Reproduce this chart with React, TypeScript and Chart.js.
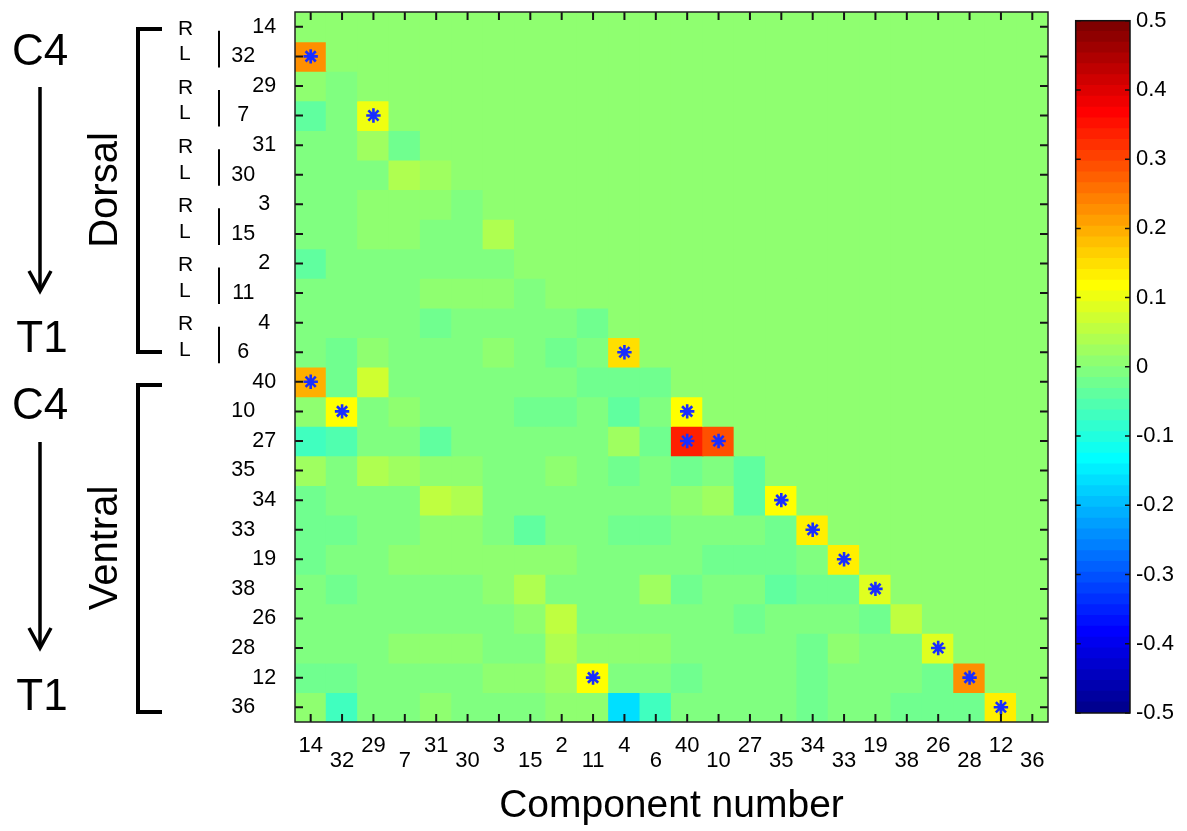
import React, { useEffect, useRef } from 'react';
import { Chart, registerables } from 'chart.js';

Chart.register(...registerables);

// ---------- data ----------
const componentLabels = ['14', '32', '29', '7', '31', '30', '3', '15', '2', '11', '4', '6', '40', '10', '27', '35', '34', '33', '19', '38', '26', '28', '12', '36'];

// lower-triangle correlation values, row r holds columns 0..r-1
const lowerTriangle: number[][] = [
  [],
  [0.22],
  [0.01, -0.01],
  [-0.04, -0.01, 0.10],
  [-0.01, -0.01, 0.02, -0.02],
  [-0.01, -0.01, -0.01, 0.04, 0.02],
  [-0.01, -0.01, 0.01, 0.01, 0.01, -0.01],
  [-0.01, -0.01, 0.01, 0.01, -0.01, -0.01, 0.04],
  [-0.04, -0.01, -0.01, -0.01, -0.01, -0.01, -0.01, 0.01],
  [-0.01, -0.01, -0.01, -0.01, 0.01, 0.01, 0.01, -0.01, 0.01],
  [-0.01, -0.01, -0.01, -0.01, -0.02, -0.01, -0.01, -0.01, -0.01, -0.02],
  [-0.01, -0.02, 0.01, -0.01, -0.01, -0.01, 0.01, -0.01, -0.02, -0.01, 0.15],
  [0.195, -0.02, 0.07, -0.01, -0.01, -0.01, -0.01, -0.01, -0.01, -0.02, -0.02, -0.02],
  [0.01, 0.115, -0.01, 0.01, -0.01, -0.01, -0.01, -0.02, -0.02, -0.01, -0.04, -0.01, 0.115],
  [-0.07, -0.055, -0.01, -0.01, -0.04, -0.01, -0.01, -0.01, -0.01, -0.01, 0.02, -0.02, 0.33, 0.29],
  [0.02, -0.01, 0.04, 0.02, 0.01, 0.01, -0.01, -0.01, 0.01, -0.01, -0.02, -0.01, -0.03, -0.01, -0.04],
  [-0.02, -0.01, -0.01, -0.01, 0.055, 0.04, -0.01, -0.01, -0.01, -0.01, -0.01, -0.01, 0.01, 0.02, -0.04, 0.115],
  [-0.02, -0.02, -0.01, -0.01, 0.01, 0.01, -0.01, -0.04, -0.01, -0.01, -0.02, -0.02, -0.01, -0.01, -0.01, -0.02, 0.125],
  [-0.02, -0.01, -0.01, 0.01, 0.01, 0.01, 0.01, 0.01, 0.01, -0.01, -0.01, -0.01, -0.01, -0.02, -0.02, -0.02, -0.01, 0.125],
  [-0.01, -0.02, -0.01, -0.01, -0.01, -0.01, 0.01, 0.04, -0.01, -0.01, -0.01, 0.02, -0.02, -0.01, -0.01, -0.04, -0.02, -0.02, 0.08],
  [-0.01, -0.01, -0.01, -0.01, -0.01, -0.01, -0.01, 0.01, 0.055, -0.01, -0.01, -0.01, -0.01, -0.01, -0.02, -0.01, -0.01, -0.01, -0.02, 0.05],
  [-0.01, -0.01, -0.01, 0.01, 0.01, 0.01, -0.01, -0.01, 0.04, 0.01, 0.01, 0.01, -0.01, -0.01, -0.01, -0.01, -0.02, 0.01, -0.01, -0.01, 0.08],
  [-0.02, -0.02, -0.01, -0.01, -0.01, -0.01, 0.01, 0.01, 0.02, 0.115, -0.01, -0.01, -0.03, -0.01, -0.01, -0.01, -0.02, -0.01, -0.01, -0.01, -0.02, 0.22],
  [0.01, -0.07, -0.01, -0.01, 0.01, -0.01, -0.01, -0.01, 0.01, 0.01, -0.165, -0.07, -0.01, -0.01, -0.01, -0.01, -0.02, -0.01, -0.01, -0.02, -0.02, -0.03, 0.13],
];

// significant cells [row, column]
const starCells: [number, number][] = [
  [1, 0], [3, 2], [11, 10], [12, 0], [13, 1], [13, 12], [14, 12], [14, 13],
  [16, 15], [17, 16], [18, 17], [19, 18], [21, 20], [22, 9], [22, 21], [23, 22],
];

const colorMin = -0.5;
const colorMax = 0.5;
const colorLevels = 64;
const colorbarStep = 0.1;

// ---------- helpers ----------
function jetColor(v: number): string {
  const t = (v - colorMin) / (colorMax - colorMin);
  const i = Math.min(colorLevels - 1, Math.max(0, Math.floor(t * colorLevels + 1e-9))) + 1;
  const u = (k: number) => (k < 1 || k > 47 ? 0 : k <= 16 ? k / 16 : k <= 31 ? 1 : (48 - k) / 16);
  const r = Math.round(255 * u(i - 24));
  const g = Math.round(255 * u(i - 8));
  const b = Math.round(255 * u(i + 8));
  return `rgb(${r},${g},${b})`;
}

const FONT = "'Liberation Sans', Arial, Helvetica, sans-serif";
const W = 1187;
const H = 831;
const ODD_PAD = '       '; // shifts odd row labels to the left (staggered labels)

const matrix: number[][] = componentLabels.map((_, r) =>
  componentLabels.map((__, c) => (c < r ? lowerTriangle[r][c] ?? 0 : 0))
);

const rowTicks = (axis: any) => {
  axis.ticks = componentLabels.map((_, i) => ({ value: i + 0.5 }));
};

const boxPlugin = {
  id: 'boxTicks',
  afterDraw(chart: any) {
    const { ctx, chartArea } = chart;
    const { left, right, top, bottom } = chartArea;
    const xs = chart.scales.x;
    const ys = chart.scales.y;
    ctx.save();
    ctx.strokeStyle = '#151515';
    ctx.lineWidth = 2;
    const tl = 8;
    componentLabels.forEach((_, i) => {
      const px = xs.getPixelForValue(i);
      const py = ys.getPixelForValue(i + 0.5);
      ctx.beginPath();
      ctx.moveTo(px, bottom); ctx.lineTo(px, bottom - tl);
      ctx.moveTo(px, top); ctx.lineTo(px, top + tl);
      ctx.moveTo(left, py); ctx.lineTo(left + tl, py);
      ctx.moveTo(right, py); ctx.lineTo(right - tl, py);
      ctx.stroke();
    });
    ctx.lineWidth = 1.5;
    ctx.strokeStyle = '#222';
    ctx.strokeRect(left, top, right - left, bottom - top);
    ctx.restore();
  },
};

const sidePlugin = {
  id: 'sideLabels',
  afterDraw(chart: any) {
    const ctx = chart.ctx as CanvasRenderingContext2D;
    const ys = chart.scales.y;
    const rowPx = (r: number) => ys.getPixelForValue(r + 0.5);
    ctx.save();
    ctx.fillStyle = '#000';
    ctx.strokeStyle = '#000';

    const sections = [
      { name: 'Dorsal', top: 29, bottom: 352, c4: 65, t1: 352, aTop: 87, aTip: 293, mid: 190 },
      { name: 'Ventral', top: 385, bottom: 712, c4: 419, t1: 710, aTop: 442, aTip: 650, mid: 548 },
    ];
    sections.forEach((s) => {
      ctx.font = `44px ${FONT}`;
      ctx.textAlign = 'center';
      ctx.textBaseline = 'alphabetic';
      ctx.fillText('C4', 40, s.c4);
      ctx.fillText('T1', 42, s.t1);
      ctx.lineWidth = 3.5;
      ctx.lineCap = 'butt';
      ctx.beginPath();
      ctx.moveTo(40, s.aTop);
      ctx.lineTo(40, s.aTip - 3);
      ctx.stroke();
      ctx.beginPath();
      ctx.lineJoin = 'miter';
      ctx.moveTo(29, s.aTip - 22);
      ctx.lineTo(40, s.aTip - 2);
      ctx.lineTo(51, s.aTip - 22);
      ctx.stroke();
      ctx.save();
      ctx.translate(117, s.mid);
      ctx.rotate(-Math.PI / 2);
      ctx.font = `40px ${FONT}`;
      ctx.textAlign = 'center';
      ctx.textBaseline = 'alphabetic';
      ctx.fillText(s.name, 0, 0);
      ctx.restore();
      ctx.lineWidth = 4;
      ctx.beginPath();
      ctx.moveTo(162, s.top);
      ctx.lineTo(138, s.top);
      ctx.lineTo(138, s.bottom);
      ctx.lineTo(162, s.bottom);
      ctx.stroke();
    });

    ctx.font = `21px ${FONT}`;
    ctx.textAlign = 'left';
    ctx.textBaseline = 'middle';
    ctx.lineWidth = 2;
    for (let k = 0; k < 6; k++) {
      const yr = rowPx(2 * k);
      const yl = rowPx(2 * k + 1);
      ctx.fillText('R', 178, yr + 2);
      ctx.fillText('L', 179, yl - 2);
      ctx.beginPath();
      ctx.moveTo(219, yr + 4);
      ctx.lineTo(219, yl + 11);
      ctx.stroke();
    }
    ctx.restore();
  },
};

const colorbarPlugin = {
  id: 'cbBox',
  afterDraw(chart: any) {
    const { ctx, chartArea } = chart;
    const { left, right, top, bottom } = chartArea;
    const ys = chart.scales.y;
    ctx.save();
    ctx.strokeStyle = '#111';
    ctx.lineWidth = 1.5;
    ys.ticks.forEach((t: any) => {
      const py = ys.getPixelForValue(t.value);
      ctx.beginPath();
      ctx.moveTo(left, py); ctx.lineTo(left + 5, py);
      ctx.moveTo(right, py); ctx.lineTo(right - 5, py);
      ctx.stroke();
    });
    ctx.strokeRect(left, top, right - left, bottom - top);
    ctx.restore();
  },
};

export default function App() {
  const mainRef = useRef<HTMLCanvasElement>(null);
  const cbRef = useRef<HTMLCanvasElement>(null);

  useEffect(() => {
    const cellDatasets: any[] = componentLabels.map((label, r) => ({
      type: 'bar',
      label,
      data: componentLabels.map(() => 1),
      backgroundColor: componentLabels.map((_, c) => jetColor(matrix[r][c])),
      borderWidth: 0,
      barPercentage: 1,
      categoryPercentage: 1,
      grouped: false,
      inflateAmount: 0.6,
      xAxisID: 'x',
      yAxisID: 'y',
      stack: 'cells',
      order: 1,
    }));
    const starDataset: any = {
      type: 'scatter',
      label: 'significant',
      data: starCells.map(([r, c]) => ({ x: c + 0.5, y: r + 0.5 })),
      xAxisID: 'xs',
      yAxisID: 'ys',
      pointStyle: 'star',
      pointRadius: 7.2,
      borderWidth: 2.6,
      borderColor: 'rgb(25,45,255)',
      backgroundColor: 'rgb(25,45,255)',
      order: 0,
    };

    const zeroPad = (s: any) => {
      s.paddingTop = 0;
      s.paddingBottom = 0;
      s.paddingLeft = 0;
      s.paddingRight = 0;
    };

    const main = new Chart(mainRef.current as HTMLCanvasElement, {
      type: 'bar',
      data: { labels: componentLabels, datasets: [...cellDatasets, starDataset] },
      options: {
        animation: false,
        responsive: true,
        maintainAspectRatio: false,
        events: [],
        layout: { padding: { top: 12, right: W - 1048, left: 0, bottom: 0 } },
        plugins: { legend: { display: false }, tooltip: { enabled: false } },
        scales: {
          x: {
            type: 'category',
            stacked: true,
            grid: { display: false, drawTicks: false },
            border: { display: false },
            ticks: {
              autoSkip: false,
              maxRotation: 0,
              minRotation: 0,
              padding: 16,
              color: '#000',
              font: { family: FONT, size: 22, lineHeight: '15.5px' as any },
              callback: (_v: any, i: number) => (i % 2 === 0 ? componentLabels[i] : ['', componentLabels[i]]),
            },
            title: {
              display: true,
              text: 'Component number',
              color: '#000',
              font: { family: FONT, size: 39, lineHeight: 1.2 },
              padding: { top: 0, bottom: 1 },
            },
            afterFit: (s: any) => { s.height = H - 722; zeroPad(s); },
          },
          y: {
            type: 'linear',
            stacked: true,
            reverse: true,
            min: 0,
            max: componentLabels.length,
            position: 'left',
            grid: { display: false, drawTicks: false },
            border: { display: false },
            afterBuildTicks: rowTicks,
            ticks: {
              autoSkip: false,
              crossAlign: 'center',
              padding: -2.1,
              color: '#000',
              font: { family: FONT, size: 21.5 },
              callback: (_v: any, i: number) => (i % 2 === 0 ? componentLabels[i] : componentLabels[i] + ODD_PAD),
            },
            afterFit: (s: any) => { s.width = 295; zeroPad(s); },
          },
          xs: { type: 'linear', min: 0, max: componentLabels.length, offset: false, display: false },
          ys: { type: 'linear', min: 0, max: componentLabels.length, reverse: true, offset: false, display: false },
        },
      } as any,
      plugins: [boxPlugin, sidePlugin],
    });

    const levelDatasets: any[] = Array.from({ length: colorLevels }, (_, k) => {
      const lo = colorMin + (k * (colorMax - colorMin)) / colorLevels;
      const hi = colorMin + ((k + 1) * (colorMax - colorMin)) / colorLevels;
      return {
        data: [[lo, hi]],
        backgroundColor: jetColor((lo + hi) / 2),
        borderWidth: 0,
        barPercentage: 1,
        categoryPercentage: 1,
        grouped: false,
        inflateAmount: 0.6,
      };
    });

    const cb = new Chart(cbRef.current as HTMLCanvasElement, {
      type: 'bar',
      data: { labels: [''], datasets: levelDatasets },
      options: {
        animation: false,
        responsive: true,
        maintainAspectRatio: false,
        events: [],
        layout: { padding: { left: 25.7, top: 20.7, bottom: H - 713, right: 0 } },
        plugins: { legend: { display: false }, tooltip: { enabled: false } },
        scales: {
          x: { display: false },
          y: {
            type: 'linear',
            position: 'right',
            min: colorMin,
            max: colorMax,
            grid: { display: false, drawTicks: false },
            border: { display: false },
            ticks: {
              stepSize: colorbarStep,
              padding: 6,
              color: '#000',
              font: { family: FONT, size: 22 },
            },
            afterFit: (s: any) => { s.width = 57; zeroPad(s); },
          },
        },
      } as any,
      plugins: [colorbarPlugin],
    });

    return () => {
      main.destroy();
      cb.destroy();
    };
  }, []);

  return (
    <div style={{ position: 'fixed', left: 0, top: 0, width: W, height: H, background: '#fff' }}>
      <div style={{ position: 'absolute', left: 0, top: 0, width: W, height: H }}>
        <canvas ref={mainRef} />
      </div>
      <div style={{ position: 'absolute', left: 1050, top: 0, width: W - 1050, height: H }}>
        <canvas ref={cbRef} />
      </div>
    </div>
  );
}
